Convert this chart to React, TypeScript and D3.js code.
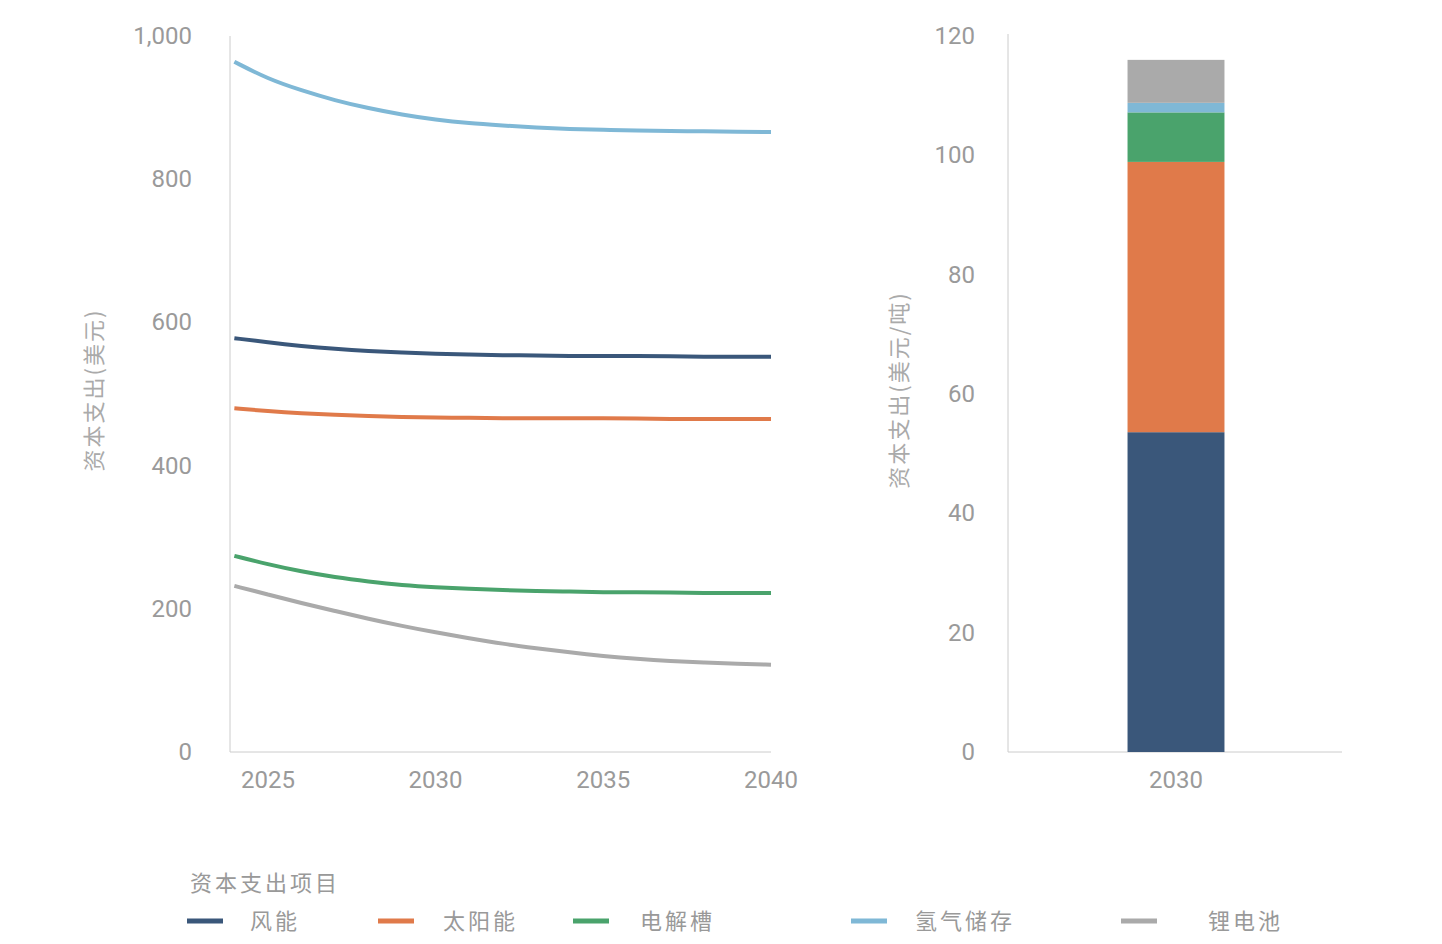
import { useEffect, useRef } from 'react';
import * as d3 from 'd3';

const years = d3.range(2024, 2041);
const seriesNames = ['风能', '太阳能', '电解槽', '氢气储存', '锂电池'];
const colors = ['#3a577a', '#e07a4a', '#4aa36c', '#7fb8d6', '#aaaaaa'];
const wind = [578, 572, 567, 563, 560, 558, 556, 555, 554, 554, 553, 553, 553, 553, 552, 552, 552];
const solar = [480, 476, 473, 471, 469, 468, 467, 467, 466, 466, 466, 466, 466, 465, 465, 465, 465];
const electrolyzer = [274, 262, 252, 244, 238, 233, 230, 228, 226, 225, 224, 223, 223, 223, 222, 222, 222];
const hydrogen = [964, 940, 924, 910, 899, 890, 883, 878, 875, 872, 870, 869, 868, 867, 867, 866, 866];
const battery = [232, 220, 208, 197, 186, 176, 167, 159, 151, 145, 139, 134, 130, 127, 125, 123, 122];
const lineSeries = [wind, solar, electrolyzer, hydrogen, battery];
const xTicks = [2025, 2030, 2035, 2040];
const leftTicks = [0, 200, 400, 600, 800, 1000];
const rightTicks = [0, 20, 40, 60, 80, 100, 120];
const barYear = '2030';
const barValues = [53.6, 45.3, 8.3, 1.6, 7.2];
const legendX = [187, 378, 573, 851, 1121];
const legendLabelX = [250, 443, 640, 915, 1208];

const grey = '#9a9a9a';
const numFont = 'Roboto, sans-serif';
const cjkFont = '"Noto Sans CJK SC", sans-serif';

export default function App() {
  const ref = useRef<SVGSVGElement>(null);
  useEffect(() => {
    if (!ref.current) return;
    const svg = d3.select(ref.current);
    svg.selectAll('*').remove();

    // left line chart
    const x = d3.scaleLinear().domain([2023.87, 2040]).range([230, 771]);
    const y = d3.scaleLinear().domain([0, 1000]).range([752, 36]);
    svg.append('line').attr('x1', 230).attr('x2', 230).attr('y1', 36).attr('y2', 752).attr('stroke', '#ccc');
    svg.append('line').attr('x1', 230).attr('x2', 771).attr('y1', 752).attr('y2', 752).attr('stroke', '#ccc');
    svg.append('g').selectAll('text').data(leftTicks).join('text')
      .attr('x', 192).attr('y', d => y(d) + 8).attr('text-anchor', 'end')
      .attr('font-family', numFont).attr('font-size', 24).attr('fill', grey)
      .text(d => d3.format(',')(d));
    svg.append('g').selectAll('text').data(xTicks).join('text')
      .attr('x', d => x(d)).attr('y', 788).attr('text-anchor', 'middle')
      .attr('font-family', numFont).attr('font-size', 24).attr('fill', grey).text(d => d);
    const line = d3.line<number>().x((_, i) => x(years[i])).y(d => y(d)).curve(d3.curveBasis);
    svg.append('g').selectAll('path').data(lineSeries).join('path')
      .attr('d', d => line(d)).attr('fill', 'none')
      .attr('stroke', (_, i) => colors[i]).attr('stroke-width', 4);
    svg.append('text').attr('transform', 'translate(102,390) rotate(-90)').attr('text-anchor', 'middle')
      .attr('font-family', cjkFont).attr('font-size', 22).attr('fill', '#aaa').attr('letter-spacing', 2)
      .text('资本支出(美元)');

    // right stacked bar
    const yb = d3.scaleLinear().domain([0, 120]).range([752, 36]);
    const xb = d3.scaleBand().domain([barYear]).range([1010, 1342]).padding(0.548);
    svg.append('line').attr('x1', 1008).attr('x2', 1008).attr('y1', 34).attr('y2', 752).attr('stroke', '#ccc');
    svg.append('line').attr('x1', 1008).attr('x2', 1342).attr('y1', 752).attr('y2', 752).attr('stroke', '#ccc');
    svg.append('g').selectAll('text').data(rightTicks).join('text')
      .attr('x', 975).attr('y', d => yb(d) + 8).attr('text-anchor', 'end')
      .attr('font-family', numFont).attr('font-size', 24).attr('fill', grey).text(d => d);
    const cum = d3.cumsum(barValues);
    svg.append('g').selectAll('rect').data(barValues).join('rect')
      .attr('x', xb(barYear)!).attr('width', xb.bandwidth())
      .attr('y', (_, i) => yb(cum[i])).attr('height', (d) => yb(0) - yb(d))
      .attr('fill', (_, i) => colors[i]);
    svg.append('text').attr('x', xb(barYear)! + xb.bandwidth() / 2).attr('y', 788).attr('text-anchor', 'middle')
      .attr('font-family', numFont).attr('font-size', 24).attr('fill', grey).text(barYear);
    svg.append('text').attr('transform', 'translate(907,390) rotate(-90)').attr('text-anchor', 'middle')
      .attr('font-family', cjkFont).attr('font-size', 22).attr('fill', '#aaa').attr('letter-spacing', 2)
      .text('资本支出(美元/吨)');

    // legend
    svg.append('text').attr('x', 190).attr('y', 891).attr('font-family', cjkFont).attr('font-size', 22)
      .attr('fill', '#999').attr('letter-spacing', 3).text('资本支出项目');
    const lg = svg.append('g').selectAll('g').data(seriesNames).join('g');
    lg.append('line').attr('x1', (_, i) => legendX[i]).attr('x2', (_, i) => legendX[i] + 36)
      .attr('y1', 921).attr('y2', 921).attr('stroke', (_, i) => colors[i]).attr('stroke-width', 5);
    lg.append('text').attr('x', (_, i) => legendLabelX[i]).attr('y', 929)
      .attr('font-family', cjkFont).attr('font-size', 22).attr('fill', '#999').attr('letter-spacing', 3)
      .text(d => d);
  }, []);
  return <svg ref={ref} width={1442} height={944}
    style={{ display: 'block', position: 'absolute', left: 0, top: 0 }} />;
}
